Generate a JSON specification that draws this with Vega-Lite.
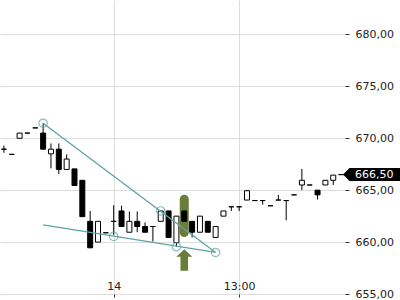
{
  "$schema": "https://vega.github.io/schema/vega-lite/v6.json",
  "width": 345,
  "height": 294,
  "autosize": {"type": "none"},
  "padding": {"left": 0, "top": 0, "right": 55, "bottom": 6},
  "background": "#ffffff",
  "config": {"view": {"stroke": null}, "font": "DejaVu Sans"},
  "datasets": {
    "candles": [
      {"i": 1, "o": 668.95, "h": 669.3, "l": 668.6, "c": 668.95},
      {"i": 2, "o": 668.45, "h": 668.45, "l": 668.45, "c": 668.45},
      {"i": 3, "o": 670.0, "h": 670.5, "l": 670.0, "c": 670.5},
      {"i": 4, "o": 670.5, "h": 670.5, "l": 670.5, "c": 670.5},
      {"i": 5, "o": 671.0, "h": 671.0, "l": 671.0, "c": 671.0},
      {"i": 6, "o": 670.5, "h": 671.45, "l": 668.95, "c": 668.95},
      {"i": 7, "o": 668.5, "h": 669.5, "l": 667.1, "c": 668.95},
      {"i": 8, "o": 668.95, "h": 669.5, "l": 666.55, "c": 667.0},
      {"i": 9, "o": 667.0, "h": 668.45, "l": 667.0, "c": 668.0},
      {"i": 10, "o": 667.05, "h": 667.05, "l": 665.45, "c": 665.45},
      {"i": 11, "o": 665.95, "h": 665.95, "l": 662.45, "c": 662.45},
      {"i": 12, "o": 662.0, "h": 663.0, "l": 659.45, "c": 659.45},
      {"i": 13, "o": 660.0, "h": 662.0, "l": 660.0, "c": 662.0},
      {"i": 14, "o": 660.9, "h": 660.9, "l": 660.9, "c": 660.9},
      {"i": 15, "o": 662.0, "h": 663.55, "l": 660.7, "c": 662.0},
      {"i": 16, "o": 663.0, "h": 663.5, "l": 661.5, "c": 661.5},
      {"i": 17, "o": 660.95, "h": 662.95, "l": 660.95, "c": 662.0},
      {"i": 18, "o": 662.0, "h": 662.95, "l": 660.95, "c": 661.5},
      {"i": 19, "o": 661.5, "h": 661.9, "l": 660.95, "c": 660.95},
      {"i": 20, "o": 661.5, "h": 661.5, "l": 660.05, "c": 661.5},
      {"i": 21, "o": 662.0, "h": 663.0, "l": 662.0, "c": 663.0},
      {"i": 22, "o": 663.0, "h": 663.0, "l": 660.45, "c": 660.45},
      {"i": 23, "o": 659.95, "h": 662.5, "l": 659.55, "c": 662.5},
      {"i": 24, "o": 663.0, "h": 663.0, "l": 662.0, "c": 662.0},
      {"i": 25, "o": 662.0, "h": 662.0, "l": 660.45, "c": 660.95},
      {"i": 26, "o": 660.95, "h": 662.5, "l": 660.95, "c": 662.5},
      {"i": 27, "o": 662.0, "h": 662.0, "l": 660.95, "c": 660.95},
      {"i": 28, "o": 660.45, "h": 661.5, "l": 660.45, "c": 661.5},
      {"i": 29, "o": 662.5, "h": 663.0, "l": 662.5, "c": 663.0},
      {"i": 30, "o": 663.4, "h": 663.4, "l": 663.0, "c": 663.4},
      {"i": 31, "o": 663.4, "h": 663.4, "l": 663.0, "c": 663.4},
      {"i": 32, "o": 664.05, "h": 664.95, "l": 664.05, "c": 664.95},
      {"i": 33, "o": 664.0, "h": 664.0, "l": 664.0, "c": 664.0},
      {"i": 34, "o": 664.0, "h": 664.0, "l": 663.6, "c": 664.0},
      {"i": 35, "o": 663.5, "h": 663.5, "l": 663.5, "c": 663.5},
      {"i": 36, "o": 664.05, "h": 664.55, "l": 664.05, "c": 664.05},
      {"i": 37, "o": 664.0, "h": 664.0, "l": 662.1, "c": 664.0},
      {"i": 38, "o": 664.55, "h": 664.55, "l": 664.55, "c": 664.55},
      {"i": 39, "o": 665.5, "h": 667.05, "l": 665.0, "c": 665.95},
      {"i": 40, "o": 665.5, "h": 665.5, "l": 665.5, "c": 665.5},
      {"i": 41, "o": 665.0, "h": 665.0, "l": 664.1, "c": 664.55},
      {"i": 42, "o": 665.5, "h": 665.95, "l": 665.5, "c": 665.95},
      {"i": 43, "o": 665.95, "h": 666.45, "l": 665.5, "c": 666.45},
      {"i": 44, "o": 666.5, "h": 666.5, "l": 666.5, "c": 666.5}
    ],
    "trend": [
      {"line": "A", "i": 6, "p": 671.45},
      {"line": "A", "i": 28, "p": 659.0},
      {"line": "B", "i": 6, "p": 661.65},
      {"line": "B", "i": 28, "p": 659.0}
    ],
    "anchors": [
      {"i": 6, "p": 671.45},
      {"i": 21, "p": 663.0},
      {"i": 15, "p": 660.55},
      {"i": 23, "p": 659.55},
      {"i": 28, "p": 659.0}
    ],
    "signal": [
      {"i": 24, "top": 664.55, "bottom": 660.5, "arrow": 659.3}
    ],
    "tag": [
      {"price": 666.5, "label": "666,50"}
    ]
  },
  "encoding": {
    "x": {
      "field": "i",
      "type": "quantitative",
      "scale": {"domain": [0.5, 44.5], "nice": false, "zero": false, "padding": 0},
      "axis": {
        "orient": "bottom",
        "title": null,
        "values": [15, 31],
        "labelExpr": "datum.value == 15 ? '14' : '13:00'",
        "grid": true,
        "gridColor": "#dcdcdc",
        "domain": false,
        "tickSize": 3,
        "tickColor": "#333333",
        "labelPadding": -17,
        "labelBaseline": "top",
        "labelFontSize": 11,
        "labelColor": "#222222",
        "labelFont": "DejaVu Sans"
      }
    }
  },
  "layer": [
    {
      "data": {"name": "candles"},
      "mark": {"type": "rule", "color": "#000000", "strokeWidth": 1},
      "encoding": {
        "y": {
          "field": "l",
          "type": "quantitative",
          "scale": {"domain": [655, 683.32], "nice": false, "zero": false},
          "axis": {
            "orient": "right",
            "title": null,
            "values": [655, 660, 665, 670, 675, 680],
            "labelExpr": "replace(format(datum.value, '.2f'), '.', ',')",
            "grid": true,
            "gridColor": "#dcdcdc",
            "domain": false,
            "tickSize": 4,
            "tickColor": "#333333",
            "labelPadding": 6,
            "labelFontSize": 11,
            "labelColor": "#222222",
            "labelFont": "DejaVu Sans"
          }
        },
        "y2": {"field": "h"}
      }
    },
    {
      "data": {"name": "signal"},
      "mark": {"type": "bar", "size": 9, "cornerRadius": 4.5, "color": "#6b7d3a"},
      "encoding": {
        "y": {"field": "top", "type": "quantitative"},
        "y2": {"field": "bottom"}
      }
    },
    {
      "data": {"name": "candles"},
      "mark": {"type": "bar", "size": 5, "stroke": "#000000", "strokeWidth": 1},
      "encoding": {
        "y": {"field": "o", "type": "quantitative"},
        "y2": {"field": "c"},
        "fill": {
          "condition": {"test": "datum.c < datum.o", "value": "#000000"},
          "value": "#ffffff"
        }
      }
    },
    {
      "data": {"name": "trend"},
      "mark": {"type": "line", "color": "#5fa3a6", "strokeWidth": 1.3},
      "encoding": {
        "y": {"field": "p", "type": "quantitative"},
        "detail": {"field": "line"}
      }
    },
    {
      "data": {"name": "anchors"},
      "mark": {"type": "point", "shape": "circle", "size": 70, "filled": false, "stroke": "#5fa3a6", "strokeWidth": 1.2},
      "encoding": {
        "y": {"field": "p", "type": "quantitative"}
      }
    },
    {
      "data": {"name": "signal"},
      "mark": {
        "type": "point",
        "shape": "M0,0L0.8,0.75L0.38,0.75L0.38,2.15L-0.38,2.15L-0.38,0.75L-0.8,0.75Z",
        "size": 400,
        "filled": true,
        "color": "#6b7d3a",
        "opacity": 1
      },
      "encoding": {
        "y": {"field": "arrow", "type": "quantitative"}
      }
    },
    {
      "data": {"name": "tag"},
      "mark": {
        "type": "point",
        "shape": "M0,0L0.65,-0.65L6,-0.65L6,0.65L0.65,0.65Z",
        "size": 400,
        "filled": true,
        "color": "#000000",
        "opacity": 1,
        "x": {"expr": "width - 2"}
      },
      "encoding": {
        "x": null,
        "y": {"field": "price", "type": "quantitative"}
      }
    },
    {
      "data": {"name": "tag"},
      "mark": {
        "type": "text",
        "align": "left",
        "baseline": "middle",
        "fontSize": 11,
        "font": "DejaVu Sans",
        "color": "#ffffff",
        "x": {"expr": "width + 10"}
      },
      "encoding": {
        "x": null,
        "y": {"field": "price", "type": "quantitative"},
        "text": {"field": "label"}
      }
    }
  ]
}
